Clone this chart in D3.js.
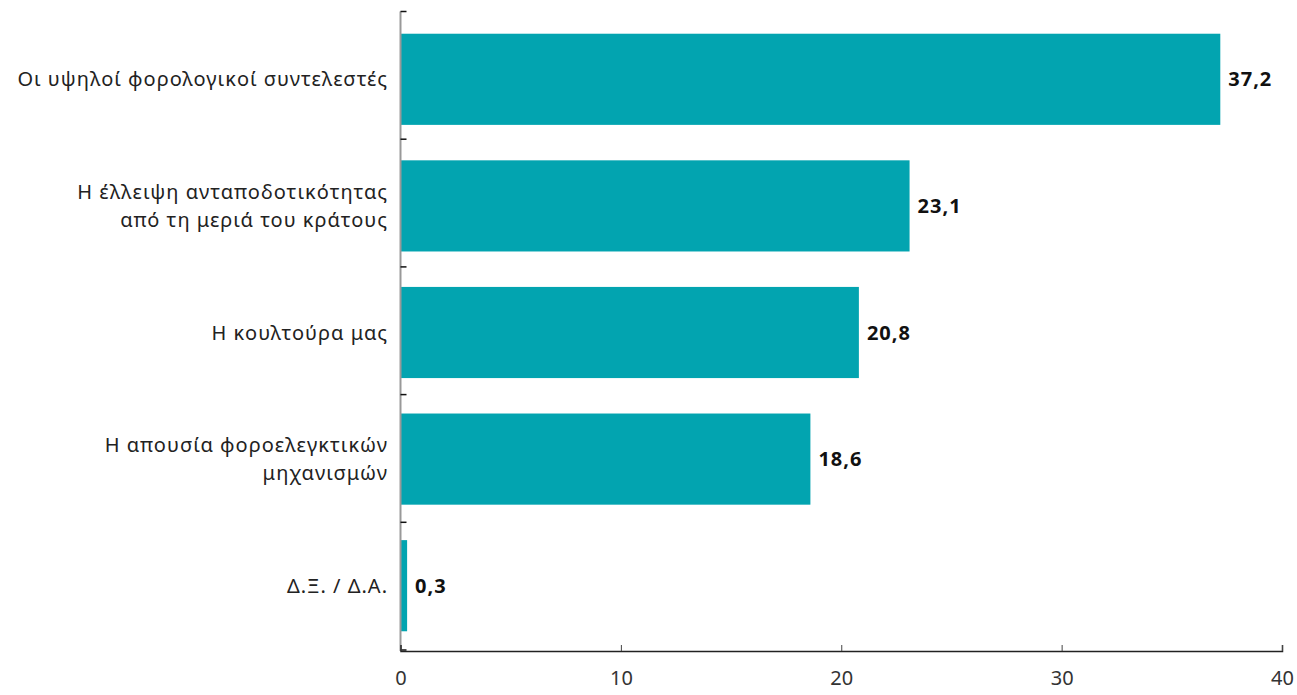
<!DOCTYPE html>
<html><head><meta charset="utf-8">
<script src="https://cdn.jsdelivr.net/npm/d3@7"></script>
<style>body{margin:0;background:#fff;} text{font-family:"Noto Sans",sans-serif;}</style>
</head><body><svg id="c" width="1297" height="695"></svg>
<script>
const categories = [
  ["Οι υψηλοί φορολογικοί συντελεστές"],
  ["Η έλλειψη ανταποδοτικότητας","από τη μεριά του κράτους"],
  ["Η κουλτούρα μας"],
  ["Η απουσία φοροελεγκτικών","μηχανισμών"],
  ["Δ.Ξ. / Δ.Α."]
];
const values = [37.2, 23.1, 20.8, 18.6, 0.3];
const valueLabels = ["37,2","23,1","20,8","18,6","0,3"];
const xTicks = [0,10,20,30,40];

(function(){
const svg = d3.select("#c");
const mLeft = 400.5, mRight = 1282, mTop = 11.5, mBottom = 651;
const x = d3.scaleLinear().domain([0,40]).range([mLeft,mRight]);
const y = d3.scaleBand().domain(d3.range(values.length)).range([16,649]).paddingInner(0.28).paddingOuter(0.14);
const yt = d3.scaleLinear().domain([0,values.length]).range([mTop,mBottom-1]);

svg.selectAll("rect.bar").data(values).join("rect")
  .attr("x", x(0)).attr("y",(d,i)=>y(i)).attr("width",d=>x(d)-x(0)).attr("height",y.bandwidth())
  .attr("fill","#02a4b0");

// y axis
svg.append("line").attr("x1",mLeft).attr("x2",mLeft).attr("y1",mTop).attr("y2",mBottom).attr("stroke","#999").attr("stroke-width",2);
svg.selectAll("line.yt").data(d3.range(values.length+1)).join("line")
  .attr("x1",mLeft).attr("x2",mLeft+6).attr("y1",d=>yt(d)).attr("y2",d=>yt(d)).attr("stroke","#111").attr("stroke-width",1.5);

// x axis
const xg = svg.append("g").attr("transform",`translate(0,${mBottom})`)
  .call(d3.axisBottom(x).tickValues(xTicks).tickSize(-6).tickPadding(20).tickFormat(d3.format("d")));
xg.select(".domain").attr("stroke","#222").attr("stroke-width",1.5);
xg.selectAll(".tick line").attr("stroke","#444");
xg.selectAll(".tick text").attr("font-size",20).attr("fill","#333").attr("font-family","'Noto Sans', sans-serif");

// category labels
const cat = svg.selectAll("text.cat").data(categories).join("text")
  .attr("text-anchor","end").attr("font-size",20).attr("fill","#222").attr("letter-spacing","1px")
  .attr("x",388)
  .attr("y",(d,i)=>y(i)+y.bandwidth()/2);
cat.each(function(lines){
  const t=d3.select(this);
  const n=lines.length, lh=28;
  lines.forEach((l,k)=>{
    t.append("tspan").attr("x",388).attr("dy", k===0 ? ((-(n-1)/2)*lh + 7)+"px" : lh+"px").text(l);
  });
});

// value labels
svg.selectAll("text.val").data(values).join("text")
  .attr("x",d=>x(d)+8).attr("y",(d,i)=>y(i)+y.bandwidth()/2+7)
  .attr("font-size",20).attr("font-weight","bold").attr("fill","#111").attr("letter-spacing","1px")
  .text((d,i)=>valueLabels[i]);
})();
</script></body></html>
